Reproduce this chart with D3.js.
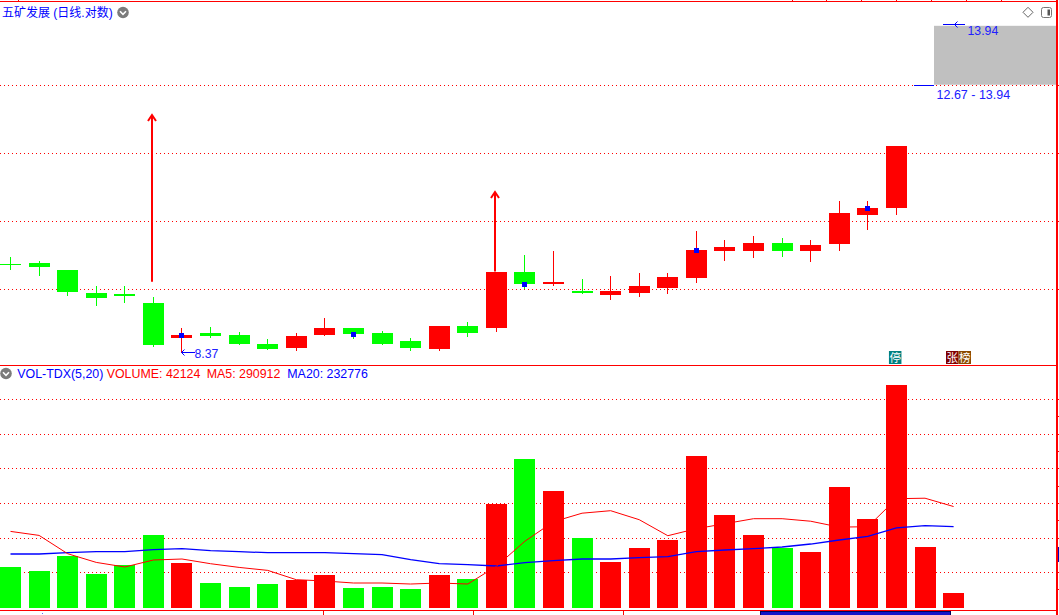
<!DOCTYPE html>
<html><head><meta charset="utf-8">
<script src="https://cdn.jsdelivr.net/npm/d3@7"></script>
<style>
html,body{margin:0;padding:0;background:#fff;overflow:hidden;}
svg{display:block;}
text{font-family:"Liberation Sans",Arial,"Noto Sans CJK SC",sans-serif;}
</style></head><body>
<svg id="c" width="1059" height="615"></svg>
<script>
// ---------------- data ----------------
const title = "五矿发展 (日线.对数)";
const days = d3.range(34);               // trading-day index (categories)
const open  = [9.60,9.62,9.51,9.18,9.17,9.04,8.56,8.63,8.60,8.48,8.43,8.60,8.69,8.63,8.52,8.41,8.72,8.69,9.48,9.31,9.21,9.15,9.18,9.25,9.40,9.80,9.80,9.92,9.80,9.91,10.36,10.48];
const high  = [9.70,9.65,9.51,9.28,9.28,9.12,8.69,8.71,8.64,8.55,8.62,8.83,8.69,8.65,8.56,8.72,8.77,9.49,9.74,9.80,9.38,9.43,9.47,9.47,10.11,9.97,10.03,10.00,9.97,10.59,10.59,11.53];
const low   = [9.53,9.44,9.15,9.01,9.05,8.45,8.37,8.57,8.48,8.41,8.40,8.60,8.56,8.48,8.40,8.40,8.59,8.65,9.25,9.29,9.18,9.09,9.14,9.18,9.34,9.66,9.71,9.72,9.65,9.81,10.14,10.38];
const close = [9.59,9.56,9.20,9.11,9.14,8.47,8.60,8.59,8.48,8.41,8.59,8.69,8.61,8.48,8.43,8.72,8.63,9.49,9.31,9.34,9.18,9.21,9.28,9.41,9.81,9.86,9.92,9.80,9.89,10.40,10.48,11.53];
const closeMarks = [6,12,18,24,30];       // blue close markers
const signalIdx  = [5,17];                // red up-arrows
const signalFrom = [9.34,9.49];
const signalTo   = [12.11,10.74];
const priceGrid  = [9.23,10.26,11.41,12.67];
const rangeLow = 12.67, rangeHigh = 13.94;

const volume = [117000,105500,148800,96800,122000,209500,128600,70800,59200,67900,79500,93900,56400,57800,53500,93900,82400,299100,429200,336700,200900,131500,172000,195100,437800,267300,209500,172000,160400,348200,255800,643000,174800,42124];
const volUp  = [0,0,0,0,0,0,1,0,0,0,1,1,0,0,0,1,0,1,0,1,0,1,1,1,1,1,1,0,1,1,1,1,1,1];
const ma5  = [219100,207500,154600,129500,116200,136400,139300,125700,115000,106400,79500,75700,69900,69900,67000,69900,67000,118000,190700,247100,271700,278900,252900,206600,226900,241300,255800,255800,248500,231500,232600,313600,315000,290912];
const ma20 = [153700,153700,157500,160400,160400,166200,169100,163300,160400,157500,157500,157500,154600,151700,137300,125700,122800,119100,128600,134400,139300,139300,143100,145900,160400,165300,169100,174000,182600,194200,204600,229000,235500,232776];
const volGrid = [100000,200000,300000,400000,500000,600000];
const volTicks = d3.range(50000, 600001, 50000);

const RED = "#ff0000", GREEN = "#00ff00", BLUE = "#0000ff", LBLUE = "#2020ff";

// ---------------- scales ----------------
const svg = d3.select("#c");
const xs = d3.scaleLinear().domain([0, 33]).range([10.5, 953.6]);
const py = d3.scaleLog().domain([8.37, 13.94]).range([352.3, 24.3]);
const vy = d3.scaleLinear().domain([0, 600000]).range([607.2, 399.6]);
const bx = i => Math.round(xs(i) - 10.5);
const RIGHT = 1056;

// ---------------- frame ----------------
const frame = svg.append("g").attr("shape-rendering","crispEdges");
frame.append("line").attr("x1",0).attr("x2",RIGHT).attr("y1",1.5).attr("y2",1.5).attr("stroke",RED);
[18,792,826,861,896,931,966,1001].forEach(x=>{
  frame.append("line").attr("x1",x+0.5).attr("x2",x+0.5).attr("y1",0).attr("y2",2).attr("stroke",RED);
});
frame.append("line").attr("x1",0).attr("x2",RIGHT+1).attr("y1",365.5).attr("y2",365.5).attr("stroke",RED);
frame.append("line").attr("x1",0).attr("x2",RIGHT+1).attr("y1",610.5).attr("y2",610.5).attr("stroke",RED);
[323,473,623].forEach(x=>{
  frame.append("line").attr("x1",x+0.5).attr("x2",x+0.5).attr("y1",611).attr("y2",615).attr("stroke",RED);
});
frame.append("rect").attr("x",42).attr("y",613).attr("width",1).attr("height",1).attr("fill","#6060ff");
frame.append("rect").attr("x",760.5).attr("y",611.5).attr("width",190).attr("height",4).attr("fill","#1414c8").attr("stroke","#00005a");

// grid lines
const grid = svg.append("g").attr("shape-rendering","crispEdges");
priceGrid.forEach(p=>{
  const y = Math.floor(py(p))+0.5;
  grid.append("line").attr("x1",0).attr("x2",RIGHT).attr("y1",y).attr("y2",y)
    .attr("stroke",RED).attr("stroke-dasharray","1,3");
  grid.append("line").attr("x1",RIGHT).attr("x2",1059).attr("y1",y).attr("y2",y).attr("stroke",RED);
});
volGrid.forEach(v=>{
  const y = Math.floor(vy(v))+0.5;
  grid.append("line").attr("x1",0).attr("x2",RIGHT).attr("y1",y).attr("y2",y)
    .attr("stroke",RED).attr("stroke-dasharray","1,3");
});
volTicks.forEach(v=>{
  const y = Math.floor(vy(v))+0.5;
  grid.append("line").attr("x1",RIGHT).attr("x2",1059).attr("y1",y).attr("y2",y).attr("stroke",RED);
});

// ---------------- range box (top right) ----------------
const yHi = py(rangeHigh), yLo = py(rangeLow);
svg.append("rect").attr("x",934).attr("y",yHi+1.5).attr("width",RIGHT-934).attr("height",(yLo-1)-(yHi+1.5))
  .attr("fill","#c0c0c0");
svg.append("line").attr("x1",914).attr("x2",934).attr("y1",Math.floor(yLo)+0.5).attr("y2",Math.floor(yLo)+0.5)
  .attr("stroke",BLUE).attr("shape-rendering","crispEdges");
const yh = Math.round(yHi)+0.5;
svg.append("line").attr("x1",943).attr("x2",965).attr("y1",yh).attr("y2",yh).attr("stroke",BLUE).attr("shape-rendering","crispEdges");
svg.append("path").attr("d",`M957.5,${yh-3}L954.5,${yh}L957.5,${yh+3}`).attr("fill","none").attr("stroke",BLUE);
svg.append("text").attr("x",967.5).attr("y",35).attr("font-size","12.3px").attr("fill",LBLUE).text(rangeHigh.toFixed(2));
svg.append("text").attr("x",936.5).attr("y",99.3).attr("font-size","12.5px").attr("fill",LBLUE)
  .text(`${rangeLow.toFixed(2)} - ${rangeHigh.toFixed(2)}`);

// ---------------- candles ----------------
const cg = svg.append("g").attr("shape-rendering","crispEdges");
open.forEach((o,i)=>{
  const c = close[i], h = high[i], l = low[i];
  const col = c >= o ? RED : GREEN;
  const x0 = bx(i);
  const wt = Math.round(py(h)), wb = Math.round(py(l)) + 1;
  cg.append("rect").attr("x",x0+10).attr("y",wt).attr("width",1).attr("height",Math.max(1,wb-wt)).attr("fill",col);
  const bt = Math.round(py(Math.max(o,c))), bb = Math.round(py(Math.min(o,c)));
  cg.append("rect").attr("x",x0).attr("y",bt).attr("width",21).attr("height",Math.max(1,bb-bt)).attr("fill",col);
});
closeMarks.forEach(i=>{
  const x0 = bx(i);
  cg.append("rect").attr("x",x0+8).attr("y",Math.round(py(close[i]))-2).attr("width",5).attr("height",5).attr("fill",BLUE);
});
// signal arrows
signalIdx.forEach((i,k)=>{
  const x = bx(i)+9;
  const y1 = py(signalFrom[k]), y2 = Math.round(py(signalTo[k]));
  svg.append("line").attr("x1",x).attr("x2",x).attr("y1",y1).attr("y2",y2).attr("stroke",RED).attr("stroke-width",2);
  svg.append("path").attr("d",`M${x-4},${y2+6}L${x},${y2}L${x+4},${y2+6}`).attr("fill","none").attr("stroke",RED).attr("stroke-width",2);
});
// lowest price label
const minLow = d3.min(low), minIdx = low.indexOf(minLow);
const lx = bx(minIdx)+10.5, ly = Math.floor(py(minLow))+0.5;
svg.append("line").attr("x1",lx).attr("x2",lx+13).attr("y1",ly).attr("y2",ly).attr("stroke",BLUE).attr("shape-rendering","crispEdges");
svg.append("path").attr("d",`M${lx+3},${ly-3}L${lx},${ly}L${lx+3},${ly+3}`).attr("fill","none").attr("stroke",BLUE);
svg.append("text").attr("x",lx+13).attr("y",357.5).attr("font-size","12.3px").attr("fill",LBLUE).text(minLow.toFixed(2));

// tags at bottom of price panel
const tags = [{i:31, dx:-7.5, t:"停", bg:"#008080"},{i:33, dx:-7.6, t:"张", bg:"#800000"},{i:33, dx:4.9, t:"榜", bg:"#8b4a00"}];
tags.forEach(d=>{
  const x = xs(d.i)+d.dx;
  svg.append("rect").attr("x",x).attr("y",351).attr("width",12.5).attr("height",13).attr("fill",d.bg);
  svg.append("text").attr("x",x+6.25).attr("y",362).attr("text-anchor","middle").attr("font-size","11.5px")
    .style("font-family","'Noto Sans CJK SC'").attr("fill","#fff").text(d.t);
});

// ---------------- volume ----------------
const vg = svg.append("g").attr("shape-rendering","crispEdges");
volume.forEach((v,i)=>{
  const y = Math.round(vy(v));
  vg.append("rect").attr("x",bx(i)).attr("y",y).attr("width",21).attr("height",608-y)
    .attr("fill",volUp[i] ? RED : GREEN);
});
const line = d3.line().x((d,i)=>xs(i)).y(d=>vy(d));
svg.append("path").attr("d",line(ma20)).attr("fill","none").attr("stroke",BLUE).attr("stroke-width",1.3);
svg.append("path").attr("d",line(ma5)).attr("fill","none").attr("stroke",RED).attr("stroke-width",1);

// right border
svg.append("rect").attr("x",RIGHT).attr("y",0).attr("width",2).attr("height",615).attr("fill",RED);
svg.append("rect").attr("x",1058).attr("y",547).attr("width",1).attr("height",15).attr("fill","#0000c0");

// ---------------- headers ----------------
svg.append("text").attr("x",2).attr("y",17).attr("font-size","12px").attr("fill",BLUE)
  .style("font-family","'Liberation Sans','Noto Sans CJK SC',sans-serif").text(title);
function chevron(cx, cy){
  svg.append("circle").attr("cx",cx).attr("cy",cy).attr("r",5.8).attr("fill","#7b7b7b");
  svg.append("path").attr("d",`M${cx-3},${cy-1.2}L${cx},${cy+1.8}L${cx+3},${cy-1.2}`).attr("fill","none")
    .attr("stroke","#fff").attr("stroke-width",1.6);
}
chevron(123,12.5);
chevron(6,373.5);
const last = volume.length-1;
const hdr = [
  {x:17.3, t:"VOL-TDX(5,20)", c:BLUE},
  {x:106.7, t:"VOLUME: "+volume[last], c:RED},
  {x:206.7, t:"MA5: "+ma5[last], c:RED},
  {x:287.3, t:"MA20: "+ma20[last], c:BLUE}
];
hdr.forEach(h=>svg.append("text").attr("x",h.x).attr("y",377.5).attr("font-size","12.4px").attr("fill",h.c).text(h.t));

// icons top right
svg.append("path").attr("d","M1028,7.3L1033,12.3L1028,17.3L1023,12.3Z").attr("fill","none").attr("stroke","#666").attr("stroke-width",1);
svg.append("rect").attr("x",1041.5).attr("y",7.5).attr("width",10).attr("height",10).attr("rx",2)
  .attr("fill","none").attr("stroke","#777");
svg.append("rect").attr("x",1047.5).attr("y",9.5).attr("width",2.5).attr("height",6).attr("fill","#555");
</script>
</body></html>
